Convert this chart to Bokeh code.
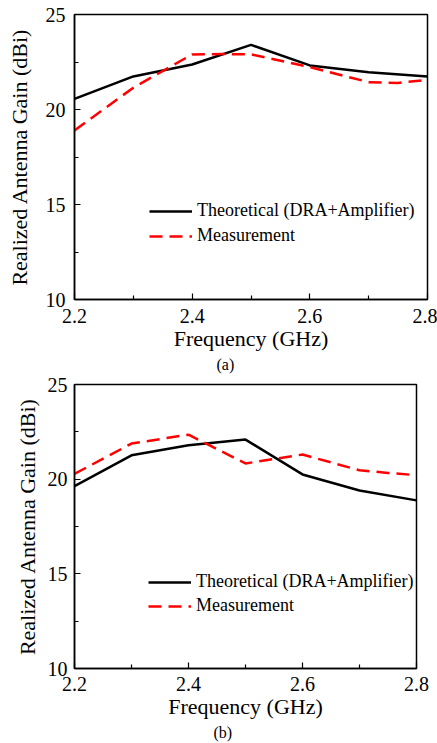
from bokeh.plotting import figure
from bokeh.models import Range1d, FixedTicker, Title
from bokeh.layouts import column
from bokeh.embed import file_html
from bokeh.resources import INLINE

# ---- data ----
freq = [2.2, 2.3, 2.4, 2.5, 2.6, 2.7, 2.8]
freq_meas_a = [2.2, 2.3, 2.4, 2.45, 2.5, 2.6, 2.7, 2.75, 2.8]
theo_a = [20.56, 21.74, 22.37, 23.40, 22.32, 21.96, 21.74]
meas_a = [18.90, 21.15, 22.90, 22.92, 22.90, 22.23, 21.44, 21.40, 21.56]

freq_meas_b = [2.2, 2.3, 2.4, 2.5, 2.6, 2.7, 2.75, 2.8]
theo_b = [19.63, 21.26, 21.79, 22.09, 20.25, 19.40, 18.88]
meas_b = [20.28, 21.88, 22.35, 20.83, 21.30, 20.47, 20.33, 20.21]

x_major = [2.2, 2.4, 2.6, 2.8]
x_minor = [2.3, 2.5, 2.7]
y_major = [10, 15, 20, 25]
y_minor = [12.5, 17.5, 22.5]

labels = ["Theoretical (DRA+Amplifier)", "Measurement"]
panel_tags = ["(a)", "(b)"]

FONT = "Liberation Serif"


def make_panel(theo_x, theo_y, meas_x, meas_y, tag, w, h, fw, fh, bl, bt,
               leg_loc, leg_spacing, tag_offset, ytick_standoff, ylab_standoff,
               xtick_standoff, xlab_standoff):
    p = figure(width=w, height=h, frame_width=fw, frame_height=fh,
               min_border_left=bl, min_border_top=bt,
               min_border_right=w - bl - fw, min_border_bottom=h - bt - fh,
               x_range=Range1d(2.2, 2.8), y_range=Range1d(10, 25),
               output_backend="svg", toolbar_location=None,
               background_fill_color="white", border_fill_color="white")
    p.line(theo_x, theo_y, line_color="black", line_width=2.5,
           legend_label=labels[0])
    p.line(meas_x, meas_y, line_color="#ff0000", line_width=2.5,
           line_dash="13 7", legend_label=labels[1])

    p.xgrid.visible = False
    p.ygrid.visible = False
    p.outline_line_color = "black"
    p.outline_line_width = 1.5

    p.xaxis.ticker = FixedTicker(ticks=x_major, minor_ticks=x_minor)
    p.yaxis.ticker = FixedTicker(ticks=y_major, minor_ticks=y_minor)
    for ax in (p.xaxis[0], p.yaxis[0]):
        ax.axis_line_color = "black"
        ax.axis_line_width = 1.5
        ax.major_tick_in = 6
        ax.major_tick_out = 0
        ax.minor_tick_in = 4
        ax.minor_tick_out = 0
        ax.major_tick_line_color = "black"
        ax.minor_tick_line_color = "black"
        ax.major_tick_line_width = 1.2
        ax.minor_tick_line_width = 1.2
        ax.major_label_text_font = FONT
        ax.major_label_text_font_size = "20px"
        ax.major_label_text_color = "black"
        ax.axis_label_text_font = FONT
        ax.axis_label_text_font_size = "22px"
        ax.axis_label_text_font_style = "normal"
        ax.axis_label_text_color = "black"
    p.xaxis.axis_label = "Frequency (GHz)"
    p.yaxis.axis_label = "Realized Antenna Gain (dBi)"
    p.xaxis.major_label_standoff = xtick_standoff
    p.xaxis.axis_label_standoff = xlab_standoff
    p.yaxis.major_label_standoff = ytick_standoff
    p.yaxis.axis_label_standoff = ylab_standoff

    lg = p.legend[0]
    lg.location = leg_loc
    lg.background_fill_alpha = 0
    lg.border_line_alpha = 0
    lg.padding = 0
    lg.margin = 0
    lg.spacing = leg_spacing
    lg.glyph_width = 43
    lg.glyph_height = 20
    lg.label_height = 20
    lg.label_standoff = 5
    lg.label_text_font = FONT
    lg.label_text_font_size = "18px"
    lg.label_text_color = "black"

    p.add_layout(Title(text=tag, align="left", offset=tag_offset,
                       text_font=FONT, text_font_size="16px",
                       text_font_style="normal", text_color="black",
                       standoff=0), "below")
    return p


p1 = make_panel(freq, theo_a, freq_meas_a, meas_a, panel_tags[0],
                437, 374, 353, 285, 72, 14, (75, 53), 4, 142, 9, 11, 9, 0)
p2 = make_panel(freq, theo_b, freq_meas_b, meas_b, panel_tags[1],
                437, 369, 342, 284, 74, 10, (74, 52), 3, 139, 7, 5, 8, 0)

layout = column(p1, p2, spacing=0)
open("out.html", "w").write(file_html(layout, INLINE))
